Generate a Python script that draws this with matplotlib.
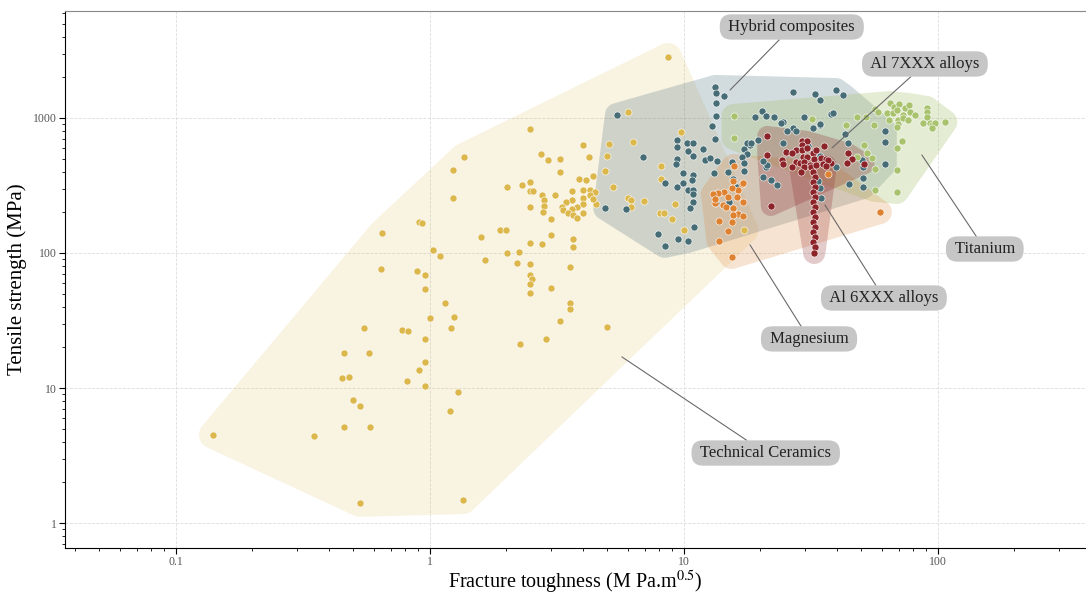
import matplotlib
matplotlib.use('Agg')
import matplotlib.pyplot as plt
import numpy as np
from matplotlib.ticker import LogLocator, FuncFormatter, NullFormatter

plt.rcParams['font.family'] = ['Liberation Serif', 'DejaVu Serif']
plt.rcParams['mathtext.fontset'] = 'stix'

# fracture toughness (MPa.m^0.5) / tensile strength (MPa) per material family
ceramics_k = [0.14, 0.349, 0.46, 0.575, 0.55, 0.45, 0.48, 0.50, 0.53, 0.46, 0.58, 0.53, 1.35,
              0.81, 0.955, 0.905, 0.955, 0.78, 0.82, 0.955, 1.0, 1.21, 1.24, 1.15, 0.955, 0.955,
              0.89, 0.64, 1.29, 1.2, 1.65, 1.10, 1.03, 1.36, 1.23, 1.23, 0.65, 0.905, 0.93, 1.59,
              1.89, 1.99, 2.47, 4.0, 2.73, 2.91, 3.25, 4.23, 5.07, 4.98, 3.25, 4.89, 4.38, 3.86,
              4.11, 2.47, 2.30, 2.01, 2.47, 2.55, 3.10, 2.76, 2.81, 2.81, 2.78, 2.47, 2.99, 3.62,
              4.0, 4.27, 4.46, 3.62, 3.43, 4.0, 4.27, 4.5, 4.0, 3.79, 3.62, 3.31, 3.35, 3.49,
              3.66, 3.79, 4.0, 2.47, 2.76, 2.99, 3.66, 3.66, 2.01, 2.24, 2.20, 2.47, 3.56, 2.47,
              2.52, 2.47, 2.47, 2.99, 3.56, 3.56, 3.25, 2.86, 2.26, 4.98, 6.0, 5.27, 6.0, 8.65,
              9.7, 6.3, 8.1, 8.1, 6.2, 6.96, 9.2, 8.04, 8.35, 8.97, 10.0, 17.3, 4.38, 6.2]
ceramics_s = [4.5, 4.4, 18.2, 18.2, 27.8, 11.9, 12.1, 8.15, 7.35, 5.1, 5.1, 1.41, 1.48,
              11.3, 10.3, 13.6, 15.5, 26.9, 26.4, 23.1, 33, 27.8, 33.6, 42.5, 54.3, 68.8,
              73.6, 76.4, 9.3, 6.75, 88.8, 94.8, 105, 514, 412, 255, 141, 170, 168, 131,
              148, 148, 829, 631, 541, 488, 496, 514, 641, 524, 398, 405, 372, 353,
              347, 336, 319, 308, 288, 288, 269, 269, 247, 223, 201, 219, 179, 288,
              293, 293, 283, 247, 239, 255, 269, 231, 231, 219, 213, 219, 208, 197,
              190, 181, 197, 119, 117, 135, 127, 111, 100, 102, 84.3, 82.8, 78.7, 68.8,
              64.4, 58.9, 50.6, 55.1, 42.6, 38.5, 31.3, 23.1, 21.2, 28.3, 1107, 308, 255, 2830,
              788, 664, 441, 353, 247, 243, 231, 197, 197, 179, 148, 148, 251, 219]

hybrid_k = [13.3, 13.4, 14.4, 13.4, 13.4, 12.9, 13.3, 5.45, 19.0, 20.3, 21.1, 9.4, 9.4, 10.3,
            10.9, 10.4, 11.9, 10.9, 12.1, 12.7, 13.5, 6.9, 9.4, 9.3, 17.2, 18.2, 17.7, 16.9,
            17.3, 15.5, 13.1, 9.9, 8.4, 9.4, 9.9, 10.4, 10.9, 10.9, 10.8, 10.9, 10.9, 10.6,
            4.9, 5.9, 15.6, 16.2, 13.5, 15.0, 13.4, 14.9, 11.0, 7.9, 9.5, 10.4, 8.4, 20.5,
            21.1, 17.3, 26.9, 32.9, 39.7, 42.3, 34.3, 22.7, 24.5, 29.6, 37.9, 34.5, 26.9, 27.6,
            25.4, 61.8, 61.8, 61.8, 43.2, 24.5, 17.7, 18.4, 19.5, 29.4, 30.9, 34.3, 50.3, 38.5,
            24.1, 34.5, 32.2, 39.7, 50.7, 21.3, 20.5, 22.0, 23.3, 33.6, 34.5, 34.8, 50.7, 50.7,
            44.6, 44.2]
hybrid_s = [1698, 1532, 1455, 1291, 1035, 873, 699, 1052, 1017, 1127, 1035, 687, 610, 653,
            653, 570, 589, 524, 488, 506, 480, 514, 496, 456, 589, 631, 541, 514,
            464, 472, 392, 392, 330, 308, 330, 293, 293, 378, 347, 273, 239, 215,
            215, 212, 353, 308, 278, 239, 235, 398, 156, 138, 127, 123, 113, 366,
            434, 405, 1570, 1506, 1610, 1480, 1358, 1017, 934, 1017, 1071, 887, 843, 802,
            802, 802, 664, 456, 761, 653, 653, 653, 687, 653, 621, 524, 488, 1089,
            919, 904, 843, 434, 434, 448, 480, 347, 319, 341, 303, 255, 360, 308,
            324, 653]

titanium_k = [56.4, 58.3, 64.7, 67.3, 70.3, 74.0, 76.8, 90.4, 90.4, 63.0, 66.3, 68.9, 72.6,
              77.6, 81.1, 90.4, 64.2, 69.6, 72.6, 76.0, 69.6, 68.9, 87.4, 93.0, 95.2, 107,
              97.5, 95.2, 47.9, 52.2, 31.9, 43.4, 55.9, 72.0, 68.9, 52.7, 47.9, 55.0, 68.9,
              56.4, 56.4, 68.9, 51.4, 15.7, 15.7]
titanium_s = [1166, 1107, 1291, 1206, 1270, 1186, 1247, 1186, 1107, 1089, 1089, 1145, 1052,
              1107, 1052, 1017, 966, 966, 1000, 966, 904, 858, 919, 919, 887, 934,
              919, 843, 1017, 1017, 990, 887, 887, 676, 600, 551, 514, 506, 412,
              419, 293, 283, 631, 1035, 711]

magnesium_k = [15.7, 15.6, 16.9, 16.3, 15.4, 14.4, 13.6, 13.0, 14.9, 16.2, 17.1, 13.3, 14.2,
               14.7, 15.6, 16.4, 15.6, 17.1, 13.7, 15.4, 14.9, 13.7, 15.4, 13.2, 17.1, 59.1, 36.8]
magnesium_s = [441, 341, 324, 293, 303, 283, 278, 273, 260, 260, 239, 235, 227,
               219, 215, 194, 190, 187, 172, 169, 146, 123, 93.4, 251, 330, 201, 385]

al7_k = [21.3, 29.1, 30.6, 29.1, 27.6, 29.1, 30.6, 35.6, 25.2, 26.6, 32.3, 33.2, 29.4, 30.6,
         32.6, 24.3, 27.6, 28.6, 29.8, 31.3, 34.8, 36.3, 37.9, 24.5, 26.6, 29.6, 31.6, 33.2,
         35.3, 36.8, 44.2, 45.9, 43.8, 51.4, 21.3, 22.0]
al7_s = [736, 676, 676, 631, 579, 579, 600, 621, 560, 551, 551, 579, 514, 514,
         496, 488, 472, 464, 472, 448, 506, 496, 464, 456, 434, 434, 434, 448,
         456, 488, 551, 496, 464, 456, 532, 223]

al6_k = [32.3, 32.9, 32.3, 32.9, 32.3, 32.9, 32.3, 32.9, 32.3, 32.9, 32.3, 32.9, 32.3, 32.9,
         32.3, 32.9, 32.6, 28.9, 36.2]
al6_s = [398, 366, 336, 308, 283, 260, 239, 219, 201, 185, 169, 156, 143, 131,
         121, 111, 100, 398, 441]

# label text, label position, pointed-at position
labels = ["Hybrid composites", "Al 7XXX alloys", "Titanium", "Al 6XXX alloys",
          "Magnesium", "Technical Ceramics"]
label_xy = [(26.6, 4720), (88.9, 2512), (153, 107), (61.3, 46.4), (31.1, 23.1), (21.0, 3.3)]
target_xy = [(15.2, 1611), (38.3, 600), (86.5, 532), (35.9, 227), (18.2, 115), (5.70, 17.0)]

groups = [
    (ceramics_k, ceramics_s, '#dcb84c', 0.16, 14),
    (hybrid_k, hybrid_s, '#466c76', 0.24, 12),
    (titanium_k, titanium_s, '#a8c26e', 0.30, 12),
    (magnesium_k, magnesium_s, '#de8232', 0.22, 12),
    (al7_k, al7_s, '#8c2328', 0.26, 10),
    (al6_k, al6_s, '#8c2328', 0.24, 11),
]


def convex_hull(pts):
    pts = sorted(map(tuple, pts))

    def cross(o, a, b):
        return (a[0] - o[0]) * (b[1] - o[1]) - (a[1] - o[1]) * (b[0] - o[0])

    lower, upper = [], []
    for p in pts:
        while len(lower) >= 2 and cross(lower[-2], lower[-1], p) <= 0:
            lower.pop()
        lower.append(p)
    for p in reversed(pts):
        while len(upper) >= 2 and cross(upper[-2], upper[-1], p) <= 0:
            upper.pop()
        upper.append(p)
    return np.array(lower[:-1] + upper[:-1])


def draw_region(ax, xs, ys, color, alpha, pad):
    # padded hull computed in screen space, then mapped back to data
    pts = ax.transData.transform(np.column_stack([xs, ys]))
    ang = np.linspace(0, 2 * np.pi, 36, endpoint=False)
    ring = np.column_stack([np.cos(ang), np.sin(ang)]) * pad
    cloud = (pts[:, None, :] + ring[None, :, :]).reshape(-1, 2)
    hull = ax.transData.inverted().transform(convex_hull(cloud))
    ax.fill(hull[:, 0], hull[:, 1], color=color, alpha=alpha, lw=0, zorder=1)


fig = plt.figure(figsize=(10.86, 5.94), dpi=100)
ax = fig.add_axes([0.0599, 0.0774, 0.9401, 0.9041])
ax.set_xscale('log')
ax.set_yscale('log')
ax.set_xlim(0.0366, 383)
ax.set_ylim(0.653, 6200)

for xs, ys, color, alpha, pad in groups:
    draw_region(ax, xs, ys, color, alpha, pad)
for xs, ys, color, alpha, pad in groups:
    ax.scatter(xs, ys, s=26, color=color, edgecolor='white', linewidth=0.4, zorder=3)

for text, txy, pxy in zip(labels, label_xy, target_xy):
    ax.annotate(' ' + text + ' ', xy=pxy, xytext=txy, fontsize=12, color='#222222',
                ha='center', va='center', zorder=5,
                bbox=dict(boxstyle='round,pad=0.28,rounding_size=0.7', fc='#c6c6c6', ec='none'),
                arrowprops=dict(arrowstyle='-', color='#6a6a6a', lw=0.8, shrinkA=0, shrinkB=0))

fmt = FuncFormatter(lambda v, p: '%g' % v)
for axis in (ax.xaxis, ax.yaxis):
    axis.set_major_locator(LogLocator(base=10, numticks=12))
    axis.set_minor_locator(LogLocator(base=10, subs=np.arange(2, 10), numticks=12))
    axis.set_major_formatter(fmt)
    axis.set_minor_formatter(NullFormatter())

ax.tick_params(which='major', length=4, width=0.8, labelsize=8.5, labelcolor='#555555', pad=2)
ax.tick_params(which='minor', length=2.5, width=0.6)
ax.grid(True, which='major', linestyle='--', linewidth=0.6, color='#dddddd', zorder=0)
ax.set_axisbelow(True)

ax.spines['right'].set_visible(False)
ax.spines['top'].set_color('#888888')
ax.spines['left'].set_linewidth(0.8)
ax.spines['bottom'].set_linewidth(0.8)

ax.set_xlabel('Fracture toughness (M Pa.m$^{0.5}$)', fontsize=14.5, labelpad=0)
ax.set_ylabel('Tensile strength (MPa)', fontsize=15, labelpad=4)

fig.savefig('out.png', dpi=100)
